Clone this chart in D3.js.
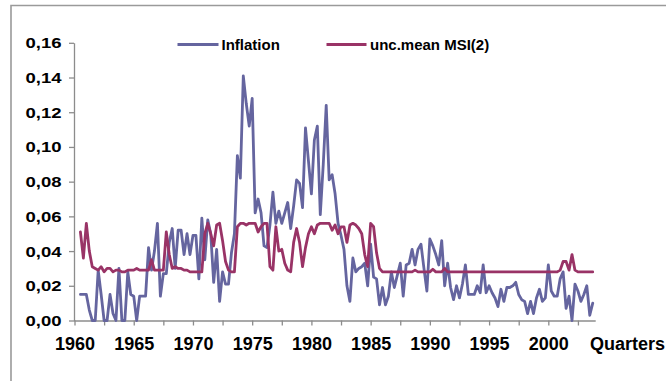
<!DOCTYPE html>
<html>
<head>
<meta charset="utf-8">
<script src="https://cdn.jsdelivr.net/npm/d3@7/dist/d3.min.js"></script>
<style>
  html, body { margin: 0; padding: 0; background: #fff; }
  svg { display: block; font-family: "Liberation Sans", Arial, sans-serif; font-weight: bold; }
</style>
</head>
<body>
<svg id="chart" width="666" height="381"></svg>
<script>
// Quarterly observations, first quarter plotted is 1960 Q3
const firstQuarter = 1960.5;

// Inflation rate, quarterly
const inflation = [
  0.015, 0.015, 0.015, 0.006, 0.000, 0.000, 0.029, 0.015, 0.000, 0.000,
  0.015, 0.004, 0.000, 0.030, 0.000, 0.000, 0.028, 0.015, 0.014, 0.000,
  0.014, 0.014, 0.014, 0.042, 0.029, 0.040, 0.056, 0.014, 0.027, 0.027,
  0.045, 0.053, 0.030, 0.052, 0.052, 0.038, 0.050, 0.038, 0.049, 0.049,
  0.024, 0.059, 0.035, 0.058, 0.050, 0.022, 0.041, 0.011, 0.028, 0.021,
  0.021, 0.039, 0.050, 0.095, 0.082, 0.141, 0.125, 0.112, 0.128, 0.062,
  0.070, 0.062, 0.043, 0.042, 0.055, 0.074, 0.056, 0.063, 0.056, 0.062,
  0.068, 0.053, 0.066, 0.081, 0.079, 0.065, 0.111, 0.092, 0.073, 0.104,
  0.112, 0.061, 0.090, 0.124, 0.081, 0.084, 0.073, 0.056, 0.049, 0.041,
  0.020, 0.011, 0.036, 0.028, 0.030, 0.031, 0.033, 0.020, 0.044, 0.025,
  0.024, 0.009, 0.019, 0.009, 0.014, 0.028, 0.019, 0.026, 0.033, 0.014,
  0.032, 0.033, 0.041, 0.032, 0.041, 0.044, 0.030, 0.017, 0.047, 0.043,
  0.038, 0.032, 0.046, 0.020, 0.033, 0.019, 0.012, 0.020, 0.013, 0.021,
  0.032, 0.015, 0.015, 0.015, 0.020, 0.016, 0.032, 0.016, 0.020, 0.016,
  0.013, 0.008, 0.018, 0.011, 0.019, 0.019, 0.020, 0.022, 0.015, 0.012,
  0.011, 0.004, 0.011, 0.004, 0.013, 0.018, 0.011, 0.013, 0.032, 0.017,
  0.014, 0.014, 0.024, 0.028, 0.007, 0.014, 0.000, 0.021, 0.017, 0.011,
  0.015, 0.020, 0.003, 0.010
];

// Unconditional mean implied by the MSI(2) model, quarterly
const msiMean = [
  0.051, 0.036, 0.056, 0.040, 0.031, 0.030, 0.029, 0.031, 0.028, 0.030,
  0.030, 0.028, 0.029, 0.029, 0.028, 0.028, 0.029, 0.029, 0.029, 0.030,
  0.029, 0.029, 0.029, 0.029, 0.035, 0.029, 0.029, 0.029, 0.029, 0.051,
  0.038, 0.030, 0.031, 0.030, 0.030, 0.029, 0.029, 0.028, 0.028, 0.028,
  0.028, 0.028, 0.050, 0.056, 0.050, 0.043, 0.055, 0.056, 0.046, 0.034,
  0.029, 0.028, 0.028, 0.054, 0.056, 0.056, 0.055, 0.056, 0.056, 0.056,
  0.051, 0.054, 0.056, 0.056, 0.031, 0.029, 0.054, 0.040, 0.041, 0.033,
  0.029, 0.028, 0.045, 0.053, 0.045, 0.031, 0.042, 0.050, 0.054, 0.050,
  0.055, 0.056, 0.056, 0.056, 0.056, 0.052, 0.055, 0.050, 0.054, 0.054,
  0.045, 0.055, 0.056, 0.055, 0.053, 0.050, 0.038, 0.031, 0.056, 0.054,
  0.039, 0.030, 0.028, 0.028, 0.028, 0.028, 0.028, 0.028, 0.028, 0.028,
  0.028, 0.028, 0.028, 0.029, 0.028, 0.028, 0.028, 0.028, 0.028, 0.0295,
  0.028, 0.028, 0.028, 0.030, 0.028, 0.028, 0.028, 0.028, 0.028, 0.028,
  0.028, 0.028, 0.028, 0.028, 0.028, 0.028, 0.028, 0.028, 0.028, 0.028,
  0.028, 0.028, 0.028, 0.028, 0.028, 0.028, 0.028, 0.028, 0.028, 0.028,
  0.028, 0.028, 0.028, 0.028, 0.028, 0.028, 0.028, 0.028, 0.028, 0.028,
  0.028, 0.028, 0.029, 0.034, 0.034, 0.029, 0.038, 0.029, 0.028, 0.028,
  0.028, 0.028, 0.028, 0.028
];

const seriesNames = ["Inflation", "unc.mean MSI(2)"];
const seriesColors = ["#65659f", "#993366"];
const yTickValues = [0, 0.02, 0.04, 0.06, 0.08, 0.10, 0.12, 0.14, 0.16];
const yearLabels = [1960, 1965, 1970, 1975, 1980, 1985, 1990, 1995, 2000];
const tickYears = [1960, 1962.5, 1965, 1967.5, 1970, 1972.5, 1975, 1977.5, 1980,
                   1982.5, 1985, 1987.5, 1990, 1992.5, 1995, 1997.5, 2000, 2002.5];
const axisTitle = "Quarters";

const svg = d3.select("#chart");

// outer frame (its right and bottom edges fall outside the canvas)
svg.append("path")
  .attr("d", "M11,381 V5.5 H666")
  .attr("fill", "none")
  .attr("stroke", "#9a9a9a")
  .attr("stroke-width", 1.6);

const x = d3.scaleLinear().domain([1960, 2004]).range([74.5, 595.7]);
const y = d3.scaleLinear().domain([0, 0.16]).range([320.5, 42.8]);

const axisColor = "#8c8c8c";

// y axis
const yAxis = svg.append("g")
  .attr("transform", "translate(74,0)")
  .call(d3.axisLeft(y)
    .tickValues(yTickValues)
    .tickSize(5)
    .tickSizeOuter(0)
    .tickFormat(d => d3.format(".2f")(d).replace(".", ",")));
yAxis.select(".domain").attr("stroke", axisColor).attr("stroke-width", 1.3);
yAxis.selectAll(".tick line").attr("stroke", axisColor).attr("stroke-width", 1.3);
yAxis.selectAll(".tick text")
  .attr("x", -12.5)
  .attr("dy", null)
  .attr("y", 5)
  .attr("fill", "#000")
  .attr("font-size", 14)
  .attr("font-weight", "bold")
  .attr("font-family", "Liberation Sans, Arial, sans-serif")
  .attr("textLength", 36)
  .attr("lengthAdjust", "spacingAndGlyphs");

// x axis
const xAxis = svg.append("g")
  .attr("transform", "translate(0,320.5)")
  .call(d3.axisBottom(x)
    .tickValues(tickYears)
    .tickSize(5)
    .tickSizeOuter(0)
    .tickFormat(d => yearLabels.includes(d) ? String(d) : ""));
xAxis.select(".domain").attr("stroke", axisColor).attr("stroke-width", 1.3)
  .attr("d", `M${x(1960) - 0.5},0.5H${x(2004)}`);
xAxis.selectAll(".tick line").attr("stroke", axisColor).attr("stroke-width", 1.3);
xAxis.selectAll(".tick text")
  .attr("dy", null)
  .attr("y", 29.5)
  .attr("fill", "#000")
  .attr("font-size", 18)
  .attr("font-weight", "bold")
  .attr("font-family", "Liberation Sans, Arial, sans-serif");

svg.append("text")
  .attr("x", 590)
  .attr("y", 349.5)
  .attr("font-size", 18)
  .attr("fill", "#000")
  .text(axisTitle);

// series lines
const line = d3.line()
  .x((d, i) => x(firstQuarter + i / 4))
  .y(d => y(d));

[inflation, msiMean].forEach((s, k) => {
  svg.append("path")
    .datum(s)
    .attr("d", line)
    .attr("fill", "none")
    .attr("stroke", seriesColors[k])
    .attr("stroke-width", 2.8)
    .attr("stroke-linejoin", "round")
    .attr("stroke-linecap", "round");
});

// legend
const legendItems = [
  { x0: 177.5, x1: 218.5, tx: 221.5 },
  { x0: 326.5, x1: 366.5, tx: 370 }
];
legendItems.forEach((p, k) => {
  svg.append("line")
    .attr("x1", p.x0).attr("x2", p.x1)
    .attr("y1", 44.5).attr("y2", 44.5)
    .attr("stroke", seriesColors[k])
    .attr("stroke-width", 3);
  svg.append("text")
    .attr("x", p.tx)
    .attr("y", 49.5)
    .attr("font-size", 15)
    .attr("fill", "#000")
    .text(seriesNames[k]);
});
</script>
</body>
</html>
